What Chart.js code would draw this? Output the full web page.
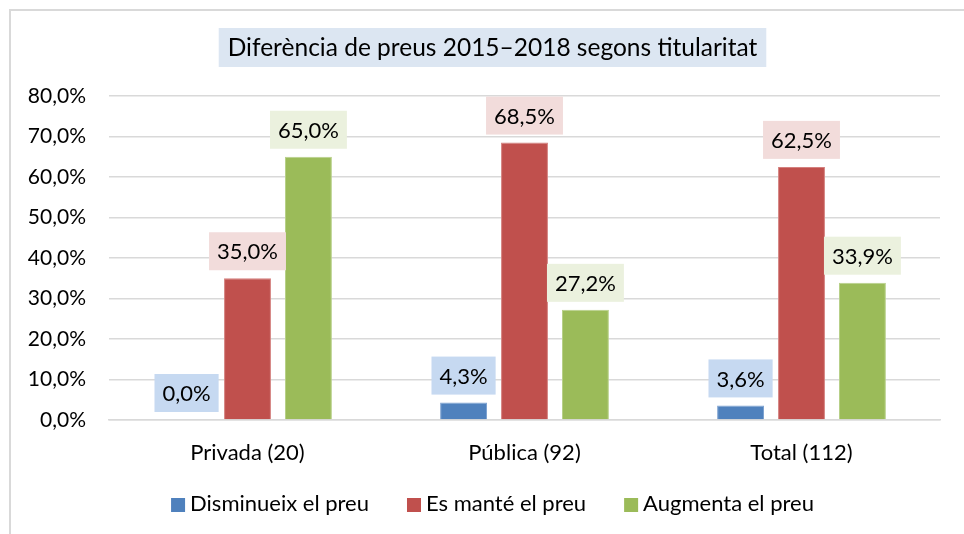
<!DOCTYPE html>
<html>
<head>
<meta charset="utf-8">
<script src="https://cdn.jsdelivr.net/npm/chart.js@4"></script>
<style>
  html, body { margin: 0; padding: 0; background: #fff; }
  #wrap { width: 964px; height: 534px; position: relative; }
</style>
</head>
<body>
<div id="wrap"><canvas id="preusChart"></canvas></div>
<script>
// ==========================
// DADES
// ==========================

const titol = 'Diferència de preus 2015–2018 segons titularitat';

const categories = ['Privada (20)', 'Pública (92)', 'Total (112)'];

const disminueix = [0.0, 4.3, 3.6];
const esMante = [35.0, 68.5, 62.5];
const augmenta = [65.0, 27.2, 33.9];

const seriesNoms = ['Disminueix el preu', 'Es manté el preu', 'Augmenta el preu'];

const yTicks = [0, 10, 20, 30, 40, 50, 60, 70, 80];

const FONT = 'Lato, "Liberation Sans", sans-serif';

function pct(v) {
    return v.toFixed(1).replace('.', ',') + '%';
}

// ==========================
// PLUGINS
// ==========================

// marc gris i titol amb fons
const marcTitol = {
    id: 'marcTitol',
    beforeDraw(chart) {
        const ctx = chart.ctx;
        ctx.save();
        ctx.fillStyle = '#fff';
        ctx.fillRect(0, 0, chart.width, chart.height);
        ctx.strokeStyle = '#d9d9d9';
        ctx.lineWidth = 2;
        ctx.beginPath();
        ctx.moveTo(10, chart.height);
        ctx.lineTo(10, 10);
        ctx.lineTo(chart.width, 10);
        ctx.stroke();

        ctx.font = '24.5px ' + FONT;
        const w = ctx.measureText(titol).width;
        const cx = 492.5;
        ctx.fillStyle = '#dce6f2';
        ctx.fillRect(cx - w / 2 - 9, 28, w + 18, 39);
        ctx.fillStyle = '#000';
        ctx.textAlign = 'center';
        ctx.textBaseline = 'middle';
        ctx.fillText(titol, cx, 48);
        ctx.restore();
    }
};

// etiquetes de dades amb fons
const etiquetes = {
    id: 'etiquetes',
    afterDatasetsDraw(chart) {
        const ctx = chart.ctx;
        ctx.save();
        ctx.font = '22px ' + FONT;
        ctx.textAlign = 'center';
        ctx.textBaseline = 'middle';
        chart.data.datasets.forEach((ds, i) => {
            const meta = chart.getDatasetMeta(i);
            meta.data.forEach((bar, j) => {
                const txt = pct(ds.data[j]);
                const w = ctx.measureText(txt).width + 16;
                const h = 38;
                const bottom = bar.y - 8;
                ctx.fillStyle = ds.labelBg;
                ctx.fillRect(bar.x - w / 2, bottom - h, w, h);
                ctx.fillStyle = '#000';
                ctx.fillText(txt, bar.x, bottom - h / 2 + 1);
            });
        });
        ctx.restore();
    }
};

// llegenda a sota
const llegenda = {
    id: 'llegenda',
    afterDraw(chart) {
        const ctx = chart.ctx;
        ctx.save();
        ctx.font = '22px ' + FONT;
        ctx.textBaseline = 'middle';
        const box = 14, gapText = 5, gapItem = 38;
        const items = chart.data.datasets.map(ds => ({
            text: ds.label,
            color: ds.backgroundColor,
            w: ctx.measureText(ds.label).width
        }));
        let total = 0;
        items.forEach((it, i) => {
            total += box + gapText + it.w + (i < items.length - 1 ? gapItem : 0);
        });
        let x = 492.5 - total / 2;
        const y = 504;
        items.forEach(it => {
            ctx.fillStyle = it.color;
            ctx.fillRect(x, y - box / 2 + 1, box, box);
            ctx.fillStyle = '#000';
            ctx.textAlign = 'left';
            ctx.fillText(it.text, x + box + gapText, y);
            x += box + gapText + it.w + gapItem;
        });
        ctx.restore();
    }
};

// ==========================
// GRAFIC DE BARRES
// ==========================

const preusCtx = document.getElementById('preusChart');

new Chart(preusCtx, {

    type: 'bar',

    data: {

        labels: categories,

        datasets: [

            {
                label: seriesNoms[0],
                data: disminueix,
                backgroundColor: '#4f81bd',
                borderColor: '#7fa3d1',
                borderWidth: 1,
                labelBg: '#c6d9f1'
            },

            {
                label: seriesNoms[1],
                data: esMante,
                backgroundColor: '#c0504d',
                borderColor: '#d4807e',
                borderWidth: 1,
                labelBg: '#f2dcdb'
            },

            {
                label: seriesNoms[2],
                data: augmenta,
                backgroundColor: '#9bbb59',
                borderColor: '#b8d08a',
                borderWidth: 1,
                labelBg: '#ebf1de'
            }

        ]

    },

    options: {

        responsive: true,
        maintainAspectRatio: false,
        animation: false,

        layout: {
            padding: { top: 96, right: 24, left: 0, bottom: 70 }
        },

        datasets: {
            bar: {
                categoryPercentage: 0.66,
                barPercentage: 0.77
            }
        },

        plugins: {

            legend: { display: false },

            tooltip: { enabled: false }

        },

        scales: {

            x: {
                afterFit(scale) {
                    scale.height = 44;
                },
                grid: { display: false, drawTicks: false },
                border: { color: '#d9d9d9', width: 1.5 },
                ticks: {
                    font: { family: FONT, size: 22 },
                    color: '#000',
                    padding: 20
                }
            },

            y: {
                min: 0,
                max: 80,
                afterBuildTicks(scale) {
                    scale.ticks = yTicks.map(v => ({ value: v }));
                },
                afterFit(scale) {
                    scale.width = 109;
                },
                grid: { color: '#d9d9d9', lineWidth: 1.5, drawTicks: false },
                border: { display: false },
                ticks: {
                    font: { family: FONT, size: 21 },
                    color: '#000',
                    padding: 23,
                    callback: v => pct(v)
                }
            }

        }

    },

    plugins: [marcTitol, etiquetes, llegenda]

});
</script>
</body>
</html>
